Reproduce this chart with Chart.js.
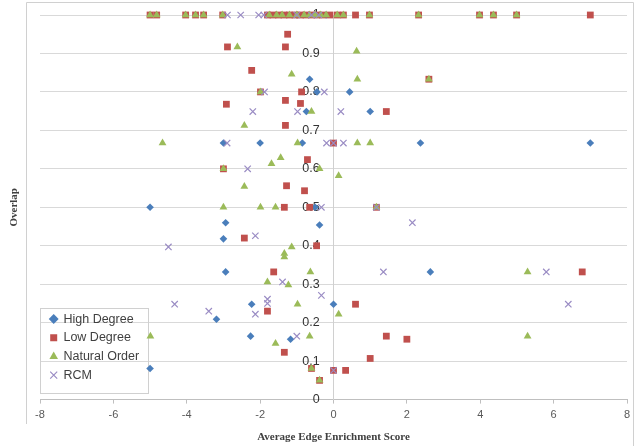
<!DOCTYPE html>
<html>
<head>
<meta charset="utf-8">
<script src="https://cdn.jsdelivr.net/npm/chart.js@4"></script>
<style>
  html, body { margin: 0; padding: 0; background: #fff; }
  #wrap { width: 636px; height: 446px; position: relative; }
</style>
</head>
<body>
<div id="wrap"><canvas id="scatterChart" width="636" height="446"></canvas></div>
<script>
// series names
var seriesNames = ["High Degree", "Low Degree", "Natural Order", "RCM"];

// x tick labels (every 2 from -8 to 8) and y ticks (every 0.1)
var xTicks = [-8, -6, -4, -2, 0, 2, 4, 6, 8];
var yTicks = [0, 0.1, 0.2, 0.3, 0.4, 0.5, 0.6, 0.7, 0.8, 0.9, 1];

// [average edge enrichment score, overlap]
var highDegree = [
  [-1.0, 1], [-0.2, 1],
  [-0.65, 0.833], [0.44, 0.8], [-0.45, 0.8], [-0.74, 0.749], [1.0, 0.749],
  [-3.0, 0.667], [-2.0, 0.667], [-0.85, 0.667], [2.37, 0.667], [7.0, 0.667],
  [-5.0, 0.5], [-0.5, 0.5], [-2.94, 0.46], [-0.38, 0.454], [-3.0, 0.418],
  [-2.94, 0.332], [2.64, 0.332], [-2.23, 0.248], [0.0, 0.248], [-3.19, 0.209],
  [-2.26, 0.165], [-1.17, 0.157], [-5.0, 0.081]
];

var lowDegree = [
  [-5.0, 1], [-4.82, 1], [-4.03, 1], [-3.76, 1], [-3.54, 1], [-3.02, 1],
  [-1.8, 1], [-1.65, 1], [-1.5, 1], [-1.35, 1], [-1.2, 1], [-1.05, 1],
  [-0.9, 1], [-0.75, 1], [-0.6, 1], [-0.45, 1], [-0.3, 1], [-0.1, 1],
  [0.1, 1], [0.27, 1], [0.6, 1], [0.98, 1], [2.32, 1], [3.98, 1],
  [4.36, 1], [4.99, 1], [7.0, 1],
  [-1.25, 0.95], [-1.31, 0.917], [-2.89, 0.917], [-2.23, 0.856], [2.6, 0.833],
  [-1.99, 0.8], [-0.87, 0.8], [-1.31, 0.778], [-0.9, 0.77], [-2.92, 0.768],
  [1.44, 0.749], [-1.31, 0.713], [0.0, 0.667], [-0.71, 0.624], [-3.0, 0.6],
  [-1.28, 0.556], [-0.79, 0.543], [-1.34, 0.5], [-0.65, 0.5], [1.17, 0.5],
  [-2.43, 0.42], [-0.46, 0.4], [-1.63, 0.332], [6.78, 0.332], [0.6, 0.248],
  [-1.8, 0.23], [1.44, 0.165], [2.0, 0.157], [-1.34, 0.123], [1.0, 0.107],
  [-0.6, 0.081], [-0.38, 0.05], [0.0, 0.076], [0.33, 0.076]
];

var naturalOrder = [
  [-5.0, 1], [-4.82, 1], [-4.03, 1], [-3.76, 1], [-3.54, 1], [-3.02, 1],
  [-1.75, 1], [-1.55, 1], [-1.4, 1], [-1.2, 1], [-1.0, 1], [-0.8, 1],
  [-0.65, 1], [-0.5, 1], [-0.35, 1], [-0.2, 1], [0.1, 1], [0.27, 1],
  [0.98, 1], [2.32, 1], [3.98, 1], [4.36, 1], [4.99, 1],
  [-2.62, 0.917], [0.63, 0.906], [-1.14, 0.846], [0.65, 0.833], [2.6, 0.833],
  [-1.99, 0.8], [-0.6, 0.749], [-2.43, 0.713], [-4.66, 0.667], [-0.98, 0.667],
  [0.65, 0.667], [1.0, 0.667], [-1.44, 0.629], [-1.69, 0.613], [-3.0, 0.6],
  [-0.38, 0.6], [0.14, 0.582], [-2.43, 0.554], [-3.0, 0.5], [-1.99, 0.5],
  [-1.58, 0.5], [1.17, 0.5], [-1.14, 0.397], [-1.34, 0.38], [-1.34, 0.371],
  [-0.63, 0.332], [5.29, 0.332], [-1.8, 0.306], [-1.23, 0.298], [-0.98, 0.248],
  [0.14, 0.222], [-4.99, 0.165], [-0.65, 0.165], [5.29, 0.165], [-1.58, 0.146],
  [-0.6, 0.081], [-0.38, 0.05]
];

var rcm = [
  [-2.89, 1], [-2.53, 1], [-2.04, 1], [-1.9, 1], [-1.0, 1], [-0.6, 1], [-0.4, 1],
  [-1.88, 0.8], [-0.25, 0.8], [-2.2, 0.749], [-0.98, 0.749], [0.2, 0.749],
  [-2.9, 0.667], [-0.19, 0.667], [0.27, 0.667], [0.0, 0.667], [-2.34, 0.6],
  [-0.33, 0.5], [1.17, 0.5], [2.15, 0.46], [-2.13, 0.426], [-4.5, 0.397],
  [1.36, 0.332], [5.8, 0.332], [-1.39, 0.306], [-0.33, 0.271], [-1.8, 0.261],
  [-1.8, 0.25], [-4.33, 0.248], [6.4, 0.248], [-3.4, 0.23], [-2.13, 0.222],
  [-1.0, 0.165], [0.0, 0.076]
];

function toPoints(arr) {
  return arr.map(function (p) { return { x: p[0], y: p[1] }; });
}

// light frame round the chart, the rotated y title and a box round the legend
var framePlugin = {
  id: 'frame',
  afterLayout: function (chart) {
    // nudge the in-plot legend down and right a little
    var lg = chart.legend;
    lg.top += 3; lg.bottom += 3;
    lg.left += 4; lg.right += 4;
  },
  beforeDraw: function (chart) {
    var ctx = chart.ctx;
    ctx.save();
    ctx.fillStyle = '#fff';
    ctx.fillRect(0, 0, chart.width, chart.height);
    ctx.strokeStyle = '#d0d0d0';
    ctx.lineWidth = 1;
    ctx.beginPath();
    ctx.moveTo(26.5, 424);
    ctx.lineTo(26.5, 2.5);
    ctx.lineTo(633.5, 2.5);
    ctx.lineTo(633.5, 446);
    ctx.stroke();
    ctx.restore();
  },
  beforeDatasetsDraw: function (chart) {
    var ctx = chart.ctx;
    var left = chart.chartArea.left + 0.5;
    var bottom = Math.round(chart.chartArea.bottom) - 6.5;
    ctx.save();
    ctx.strokeStyle = '#d0d0d0';
    ctx.lineWidth = 1;
    ctx.strokeRect(left, bottom - 85, 108, 85);
    ctx.restore();
  },
  afterDraw: function (chart) {
    var ctx = chart.ctx;
    ctx.save();
    ctx.translate(14, (chart.chartArea.top + chart.chartArea.bottom) / 2);
    ctx.rotate(-Math.PI / 2);
    ctx.font = 'bold 11px "Liberation Serif"';
    ctx.fillStyle = '#404040';
    ctx.textAlign = 'center';
    ctx.textBaseline = 'middle';
    ctx.fillText('Overlap', 0, 0);
    ctx.restore();
  }
};

new Chart(document.getElementById("scatterChart"), {
  type: 'scatter',
  data: {
    datasets: [{
      label: seriesNames[0],
      data: toPoints(highDegree),
      order: 4,
      pointStyle: 'rectRot',
      pointRadius: 3.8,
      backgroundColor: '#4a7ebb',
      borderColor: '#4a7ebb',
      borderWidth: 0,
      clip: false
    }, {
      label: seriesNames[1],
      data: toPoints(lowDegree),
      order: 3,
      pointStyle: 'rect',
      pointRadius: 4.8,
      backgroundColor: '#c0504d',
      borderColor: '#c0504d',
      borderWidth: 0,
      clip: false
    }, {
      label: seriesNames[2],
      data: toPoints(naturalOrder),
      order: 2,
      pointStyle: 'triangle',
      pointRadius: 4.5,
      backgroundColor: '#9bbb59',
      borderColor: '#9bbb59',
      borderWidth: 0,
      clip: false
    }, {
      label: seriesNames[3],
      data: toPoints(rcm),
      order: 1,
      pointStyle: 'crossRot',
      pointRadius: 4.5,
      backgroundColor: '#9a8cc4',
      borderColor: '#9a8cc4',
      borderWidth: 1.2,
      clip: false
    }]
  },
  options: {
    responsive: false,
    animation: false,
    layout: { padding: { left: 40, right: 9, top: 15, bottom: 2 } },
    plugins: {
      legend: {
        position: 'chartArea',
        align: 'end',
        labels: {
          usePointStyle: true,
          boxWidth: 7,
          boxHeight: 7,
          padding: 6.2,
          color: '#404040',
          font: { family: 'Liberation Sans', size: 12.5 },
          sort: function (a, b) { return a.datasetIndex - b.datasetIndex; }
        }
      },
      tooltip: { enabled: false }
    },
    scales: {
      x: {
        type: 'linear',
        min: -8,
        max: 8,
        afterBuildTicks: function (axis) {
          axis.ticks = xTicks.map(function (v) { return { value: v }; });
        },
        grid: { display: true, drawOnChartArea: false, tickLength: 4, color: '#bfbfbf' },
        border: { color: '#bfbfbf' },
        ticks: { color: '#595959', padding: 5, font: { family: 'Liberation Sans', size: 11 } },
        title: {
          display: true,
          text: 'Average Edge Enrichment Score',
          color: '#404040',
          font: { family: 'Liberation Serif', size: 11, weight: 'bold' },
          padding: { top: 4, bottom: 0 }
        }
      },
      y: {
        type: 'linear',
        position: { x: 0 },
        min: 0,
        max: 1,
        afterBuildTicks: function (axis) {
          axis.ticks = yTicks.map(function (v) { return { value: v }; });
        },
        // the centred axis should not push the plot area in
        afterFit: function (axis) {
          axis.paddingTop = 0; axis.paddingBottom = 0;
          axis.paddingLeft = 0; axis.paddingRight = 0;
        },
        grid: { color: '#d9d9d9', tickLength: 4 },
        border: { color: '#d0d0d0' },
        ticks: {
          color: '#333333',
          padding: 6,
          font: { family: 'Liberation Sans', size: 12.5 },
          // trailing spaces keep the labels clear of the axis line
          callback: function (v) { return (Math.round(v * 10) / 10) + '    '; }
        }
      }
    }
  },
  plugins: [framePlugin]
});
</script>
</body>
</html>
